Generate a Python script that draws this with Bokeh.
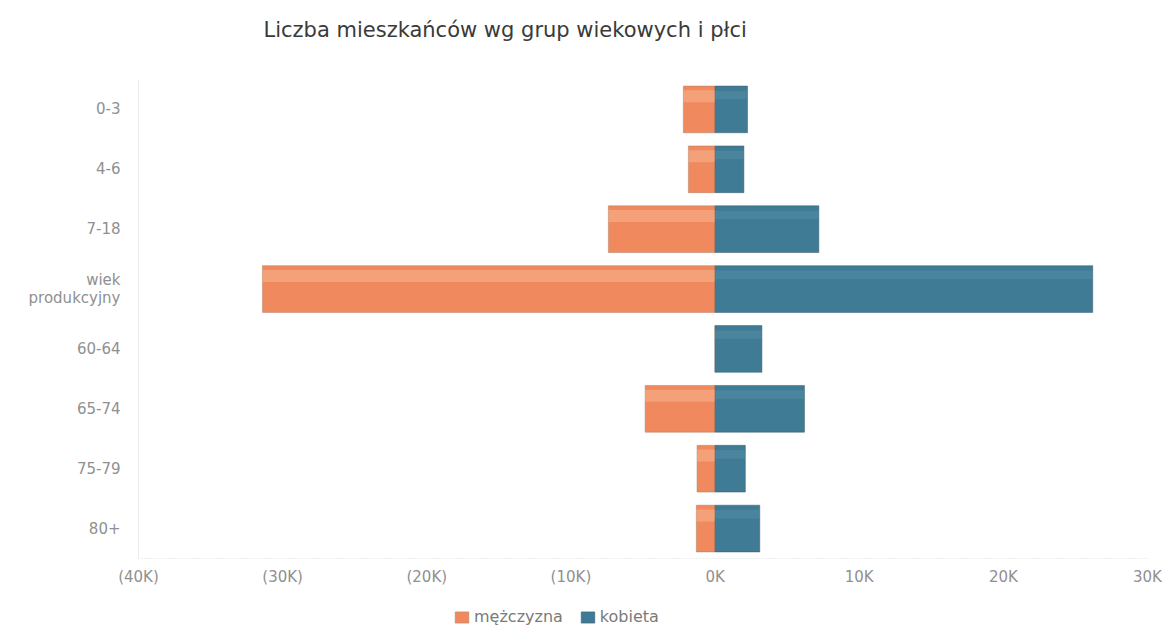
from bokeh.plotting import figure
from bokeh.layouts import column
from bokeh.models import ColumnDataSource, FactorRange, FixedTicker, Legend, LegendItem, Title, Range1d
from bokeh.transform import dodge
from bokeh.embed import file_html
from bokeh.resources import INLINE

categories = ["0-3", "4-6", "7-18", "wiek\nprodukcyjny", "60-64", "65-74", "75-79", "80+"]
male = [2200, 1850, 7400, 31400, 0, 4850, 1250, 1300]
female = [2250, 2000, 7200, 26200, 3250, 6200, 2100, 3100]
x_ticks = [-40000, -30000, -20000, -10000, 0, 10000, 20000, 30000]
x_tick_labels = ["(40K)", "(30K)", "(20K)", "(10K)", "0K", "10K", "20K", "30K"]
series_names = ["mężczyzna", "kobieta"]
title_text = "Liczba mieszkańców wg grup wiekowych i płci"

FONT = "DejaVu Sans"
MALE = "#F08A5E"
MALE_HI = "#F7B28E"
FEMALE = "#3F7B95"
FEMALE_HI = "#5E94AB"
W = 1165

src = ColumnDataSource(dict(
    cat=categories,
    male_neg=[-v for v in male],
    female=female,
    zero=[0] * len(categories),
))

x_range = Range1d(-40000, 30000)
y_range = FactorRange(factors=list(reversed(categories)), range_padding=0)


def blank_fig(h):
    f = figure(width=W, height=h, x_range=x_range, y_range=y_range,
               x_axis_location=None, y_axis_location=None,
               output_backend="svg", toolbar_location=None, min_border=0)
    f.outline_line_color = None
    f.xgrid.visible = False
    f.ygrid.visible = False
    return f


# header with the title
head = blank_fig(60)
head.title = Title(text=title_text, align="left", offset=125, standoff=31,
                   text_font=FONT, text_font_size="21px", text_font_style="normal",
                   text_color="#3a3a3a")

p = figure(
    width=W, height=540, y_range=y_range, x_range=x_range,
    output_backend="svg", toolbar_location=None,
    min_border_left=138, min_border_right=18, min_border_top=19, min_border_bottom=42,
)
p.outline_line_color = None
p.background_fill_color = "white"

H = 0.78
p.hbar(y="cat", left="male_neg", right="zero", height=H, source=src,
       fill_color=MALE, line_color="#a88068", line_alpha=0.5)
p.hbar(y=dodge("cat", 0.22, range=y_range), left="male_neg", right="zero", height=0.2, source=src,
       fill_color=MALE_HI, line_color=None, fill_alpha=0.55)
p.hbar(y="cat", left="zero", right="female", height=H, source=src,
       fill_color=FEMALE, line_color="#3a5c6a", line_alpha=0.5)
p.hbar(y=dodge("cat", 0.24, range=y_range), left="zero", right="female", height=0.14, source=src,
       fill_color=FEMALE_HI, line_color=None, fill_alpha=0.4)

p.xaxis.ticker = FixedTicker(ticks=x_ticks)
p.xaxis.major_label_overrides = {t: l for t, l in zip(x_ticks, x_tick_labels)}
for ax in (p.xaxis[0], p.yaxis[0]):
    ax.major_tick_line_color = None
    ax.minor_tick_line_color = None
    ax.major_label_text_font = FONT
    ax.major_label_text_font_size = "15px"
    ax.major_label_text_color = "#909090"
p.xaxis.axis_line_color = "#dcdcdc"
p.xaxis.axis_line_dash = "1 2"
p.xaxis.major_label_standoff = 3
p.yaxis.axis_line_color = "#ececec"
p.yaxis.major_label_standoff = 12
p.yaxis.major_label_text_line_height = 1.0
p.xgrid.grid_line_color = None
p.ygrid.grid_line_color = None

# footer with the legend (swatch renderers hidden; only the legend is shown)
foot = blank_fig(27)
sw_m = foot.hbar(y="cat", left="male_neg", right="zero", height=H, source=src,
                 fill_color=MALE, line_color="#a88068", line_alpha=0.5, visible=False)
sw_f = foot.hbar(y="cat", left="zero", right="female", height=H, source=src,
                 fill_color=FEMALE, line_color="#3a5c6a", line_alpha=0.5, visible=False)
legend = Legend(items=[LegendItem(label=series_names[0], renderers=[sw_m]),
                       LegendItem(label=series_names[1], renderers=[sw_f])],
                orientation="horizontal", location=(315, 1),
                label_text_font=FONT, label_text_font_size="16px", label_text_color="#7a7a7a",
                glyph_width=17, glyph_height=14, spacing=16, padding=0, margin=0,
                label_standoff=4, border_line_color=None, background_fill_alpha=0,
                inactive_fill_alpha=0)
foot.add_layout(legend, "center")

layout = column(head, p, foot, spacing=0)
open("out.html", "w").write(file_html(layout, INLINE))
